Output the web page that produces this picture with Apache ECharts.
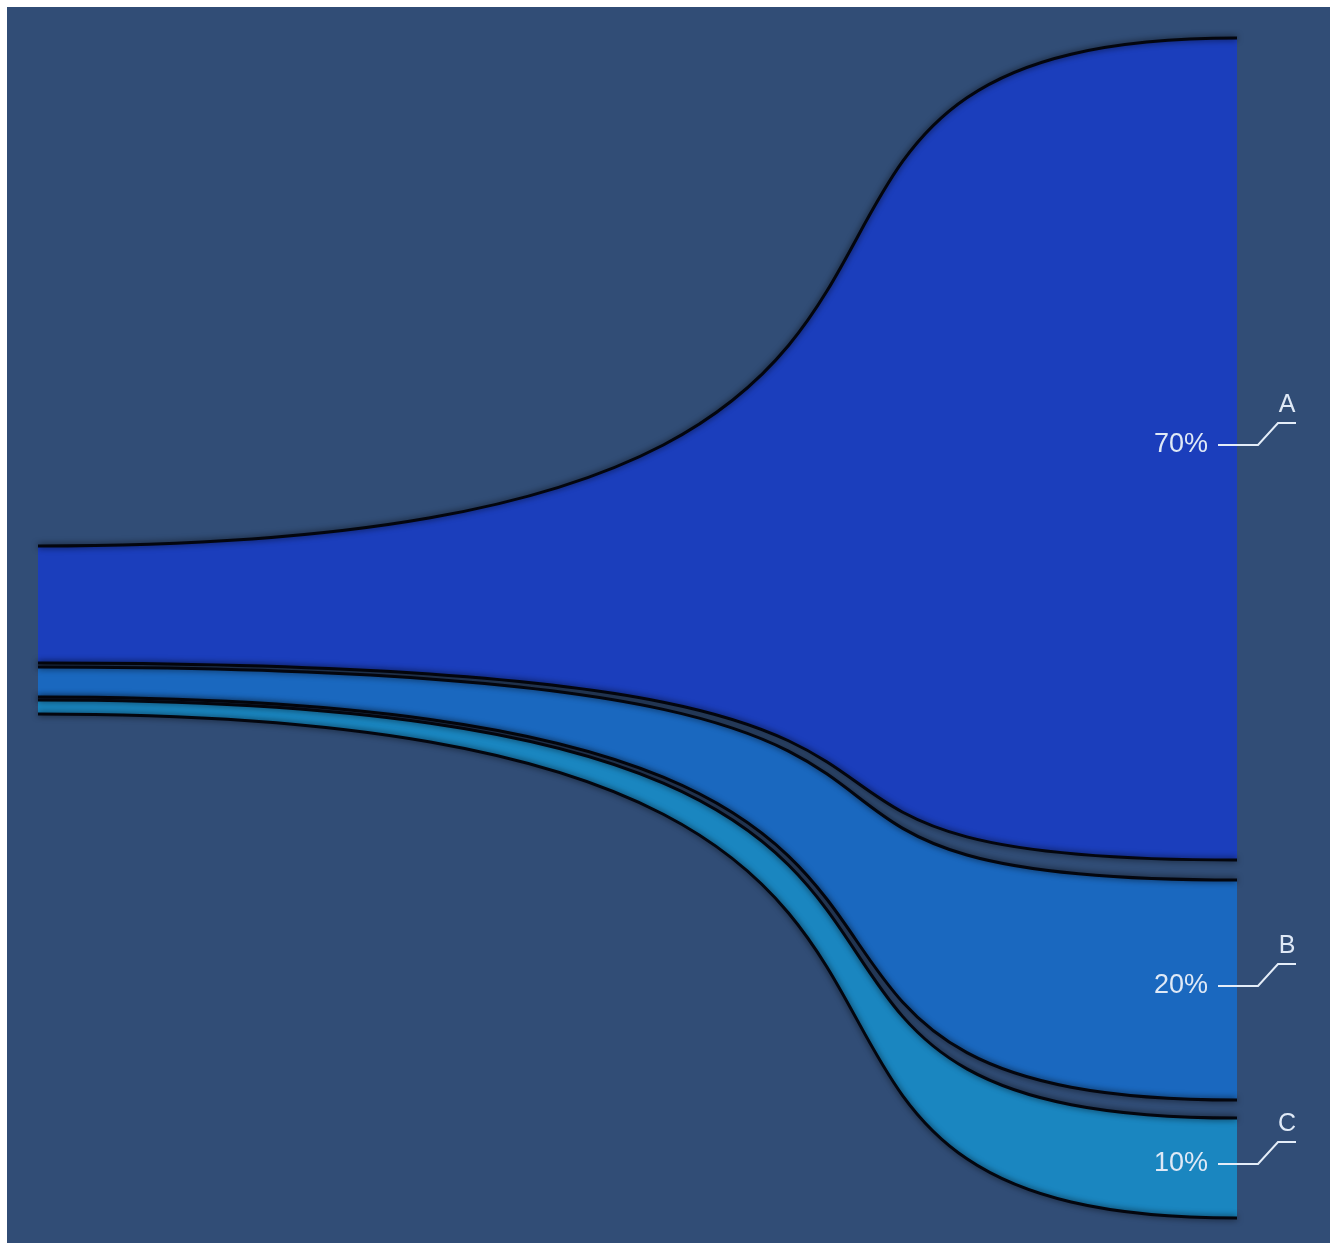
<!DOCTYPE html>
<html>
<head>
<meta charset="utf-8">
<script src="https://cdn.jsdelivr.net/npm/echarts@6/dist/echarts.min.js"></script>
<style>
  html, body { margin: 0; padding: 0; background: #ffffff; }
  #chart { position: absolute; left: 7px; top: 7px; width: 1323px; height: 1236px; }
</style>
</head>
<body>
<div id="chart"></div>
<script>
// Categories and shares
const categories = ['A', 'B', 'C'];
const shares = [70, 20, 10];
// Band edges (y-axis units, 0 = top) at the left end (x = 0) and right end (x = 1)
const leftTop = [50.8, 62.9, 66.2];
const leftBottom = [62.5, 65.9, 67.6];
const rightTop = [0, 84.2, 108.0];
const rightBottom = [82.2, 106.2, 118.0];

const colors = ['#1b3ebc', '#1a68bf', '#1a86c0'];

const data = categories.map((c, i) => [leftTop[i], leftBottom[i], rightTop[i], rightBottom[i], shares[i]]);

function curve(p0, p1) {
  const w = p1[0] - p0[0];
  return {
    x1: p0[0], y1: p0[1],
    cpx1: p0[0] + 0.95 * w, cpy1: p0[1],
    cpx2: p0[0] + 0.47 * w, cpy2: p1[1],
    x2: p1[0], y2: p1[1]
  };
}

function renderItem(params, api) {
  const i = params.dataIndex;
  const lt = api.coord([0, api.value(0)]);
  const lb = api.coord([0, api.value(1)]);
  const rt = api.coord([1, api.value(2)]);
  const rb = api.coord([1, api.value(3)]);
  const top = curve(lt, rt);
  const bot = curve(lb, rb);
  const pathData =
    'M' + top.x1 + ' ' + top.y1 +
    ' C' + top.cpx1 + ' ' + top.cpy1 + ' ' + top.cpx2 + ' ' + top.cpy2 + ' ' + top.x2 + ' ' + top.y2 +
    ' L' + bot.x2 + ' ' + bot.y2 +
    ' C' + bot.cpx2 + ' ' + bot.cpy2 + ' ' + bot.cpx1 + ' ' + bot.cpy1 + ' ' + bot.x1 + ' ' + bot.y1 +
    ' Z';
  const edgeStyle = {
    stroke: '#04060e', lineWidth: 3, fill: null,
    shadowBlur: 6, shadowColor: 'rgba(0,0,0,0.75)'
  };
  const xR = rt[0];
  const yc = (rt[1] + rb[1]) / 2 - 4;
  const labelColor = '#dfe9f6';
  return {
    type: 'group',
    children: [
      { type: 'path', shape: { pathData: pathData }, style: { fill: colors[i], stroke: null } },
      { type: 'bezierCurve', shape: top, style: edgeStyle },
      { type: 'bezierCurve', shape: bot, style: edgeStyle },
      {
        type: 'text', x: xR - 29, y: yc,
        style: { text: api.value(4) + '%', fill: labelColor, font: '27px "Liberation Sans", Arial, sans-serif', align: 'right', verticalAlign: 'middle' }
      },
      {
        type: 'polyline',
        shape: { points: [[xR - 19, yc], [xR + 21, yc], [xR + 41, yc - 22], [xR + 59, yc - 22]] },
        style: { stroke: '#e4edf8', lineWidth: 2, fill: null }
      },
      {
        type: 'text', x: xR + 50, y: yc - 40,
        style: { text: categories[i], fill: labelColor, font: '25px "Liberation Sans", Arial, sans-serif', align: 'center', verticalAlign: 'middle' }
      }
    ]
  };
}

const chart = echarts.init(document.getElementById('chart'));
chart.setOption({
  backgroundColor: '#314d76',
  animation: false,
  grid: { left: 31, right: 93, top: 31, bottom: 25 },
  xAxis: { type: 'value', min: 0, max: 1, show: false },
  yAxis: { type: 'value', min: 0, max: 118, inverse: true, show: false },
  series: [{
    type: 'custom',
    renderItem: renderItem,
    data: data,
    clip: false
  }]
});
</script>
</body>
</html>
